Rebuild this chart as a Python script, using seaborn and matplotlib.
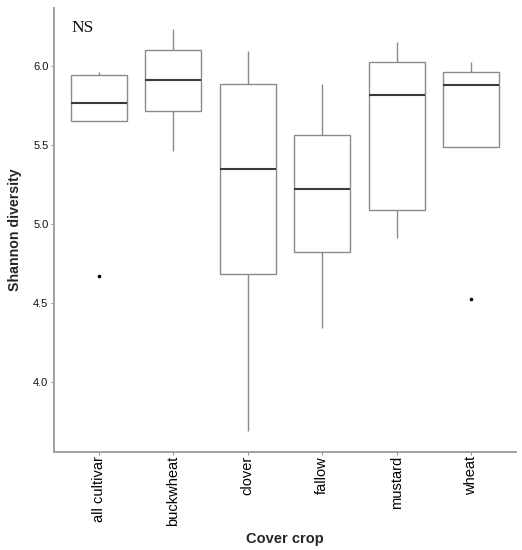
import matplotlib
matplotlib.use("Agg")
import matplotlib.pyplot as plt
import seaborn as sns
import pandas as pd

categories = ["all cultivar", "buckwheat", "clover", "fallow", "mustard", "wheat"]
all_cultivar = [4.671, 5.652, 5.764, 5.945, 5.960]
buckwheat = [5.464, 5.717, 5.909, 6.103, 6.236]
clover = [3.692, 4.684, 5.346, 5.886, 6.093]
fallow = [4.344, 4.821, 5.220, 5.565, 5.884]
mustard = [4.913, 5.091, 5.814, 6.023, 6.150]
wheat = [4.523, 5.487, 5.878, 5.962, 6.023]
y_ticks = [4.0, 4.5, 5.0, 5.5, 6.0]

series = [all_cultivar, buckwheat, clover, fallow, mustard, wheat]
df = pd.DataFrame({
    "Cover crop": [c for c, vals in zip(categories, series) for _ in vals],
    "Shannon diversity": [v for vals in series for v in vals],
})

sns.set_theme(style="white")
plt.rcParams["font.family"] = ["Liberation Sans", "DejaVu Sans"]

fig = plt.figure(figsize=(5.22, 5.5), dpi=100)
ax = fig.add_axes([54 / 522, 1 - 452 / 550, (516 - 54) / 522, (452 - 8) / 550])

sns.boxplot(
    data=df, x="Cover crop", y="Shannon diversity", order=categories,
    ax=ax, color="white", linecolor="#8a8a8a", linewidth=1.0, width=0.75,
    showcaps=False, whis=1.5,
    medianprops=dict(color="#3a3a3a", linewidth=1.5),
    flierprops=dict(marker="o", markersize=1.6, markerfacecolor="black",
                    markeredgecolor="black"),
)

ax.set_xlim(-0.6, 5.6)
ax.set_ylim(3.557, 6.367)
ax.set_yticks(y_ticks)
ax.set_yticklabels([f"{t:.1f}" for t in y_ticks], fontsize=8, color="#111111")
ax.set_xticks(range(len(categories)))
ax.set_xticklabels(categories, rotation=90, fontsize=10.5, color="#000000")

for side in ["top", "right"]:
    ax.spines[side].set_visible(False)
for side in ["left", "bottom"]:
    ax.spines[side].set_color("#9a9a9a")
    ax.spines[side].set_linewidth(1.3)

ax.tick_params(axis="both", which="both", length=2.5, color="#9a9a9a", width=0.8,
               left=True, bottom=True)
ax.tick_params(axis="y", pad=1.5)
ax.tick_params(axis="x", pad=0.3)

ax.set_xlabel("Cover crop", fontsize=10.5, fontweight="bold", labelpad=4)
ax.set_ylabel("Shannon diversity", fontsize=10.2, fontweight="bold", labelpad=8)

ax.text(-0.36, 6.213, "NS", fontsize=12.6, family=["Liberation Serif", "DejaVu Serif"],
        ha="left", va="baseline", color="#111111")

fig.savefig("out.png", dpi=100, facecolor="white")
